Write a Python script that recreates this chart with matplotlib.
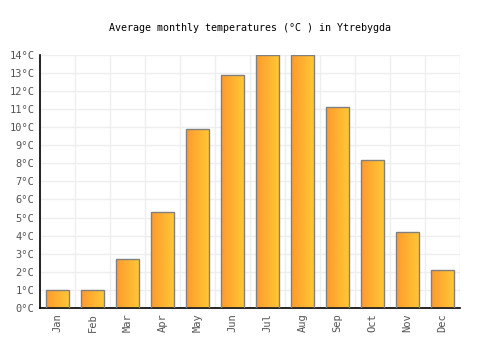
import matplotlib
matplotlib.use("Agg")
import matplotlib.pyplot as plt
import numpy as np
from matplotlib.colors import LinearSegmentedColormap

months = ["Jan", "Feb", "Mar", "Apr", "May", "Jun", "Jul", "Aug", "Sep", "Oct", "Nov", "Dec"]
temps = [1.0, 1.0, 2.7, 5.3, 9.9, 12.9, 14.0, 14.0, 11.1, 8.2, 4.2, 2.1]
yticks = list(range(0, 15))
ytick_labels = [f"{t}°C" for t in yticks]

plt.rcParams['font.family'] = ['DejaVu Sans Mono']

fig = plt.figure(figsize=(5, 3.5), dpi=100)
ax = fig.add_axes([0.08, 0.12, 0.84, 0.724])

x = np.arange(len(months))
bars = ax.bar(x, temps, width=0.67, color='none', edgecolor='#808080', linewidth=1.0, zorder=3)

cmap = LinearSegmentedColormap.from_list('g', ['#ff9a2e', '#ffc935'])
grad = np.linspace(0, 1, 64).reshape(1, -1)
for b in bars:
    x0, y0 = b.get_x(), b.get_y()
    w, h = b.get_width(), b.get_height()
    im = ax.imshow(grad, cmap=cmap, aspect='auto', extent=[x0, x0 + w, y0, y0 + h], zorder=2)
    im.set_clip_path(b)

ax.set_xlim(-0.5, len(months) - 0.5)
ax.set_ylim(0, 14)
ax.set_yticks(yticks)
ax.set_yticklabels(ytick_labels)
ax.set_xticks(x)
ax.set_xticklabels(months, rotation=90)

ax.set_xticks(np.arange(-0.5, len(months) + 0.5, 1), minor=True)
ax.grid(True, which='minor', axis='x', color='#eeeeee', linewidth=1, zorder=0)
ax.grid(True, which='major', axis='y', color='#eeeeee', linewidth=1, zorder=0)
ax.tick_params(axis='x', which='minor', length=0)
ax.tick_params(axis='both', which='major', length=0, labelsize=7.5, colors='#555555', pad=4)

for s in ['top', 'right']:
    ax.spines[s].set_visible(False)
ax.spines['left'].set_color('black')
ax.spines['bottom'].set_color('black')
ax.spines['left'].set_linewidth(1.2)
ax.spines['bottom'].set_linewidth(1.2)
ax.set_axisbelow(True)

fig.text(0.5, 0.92, "Average monthly temperatures (°C ) in Ytrebygda", ha='center', va='center',
         fontsize=7.2, color='black')

fig.savefig("out.png", dpi=100)
